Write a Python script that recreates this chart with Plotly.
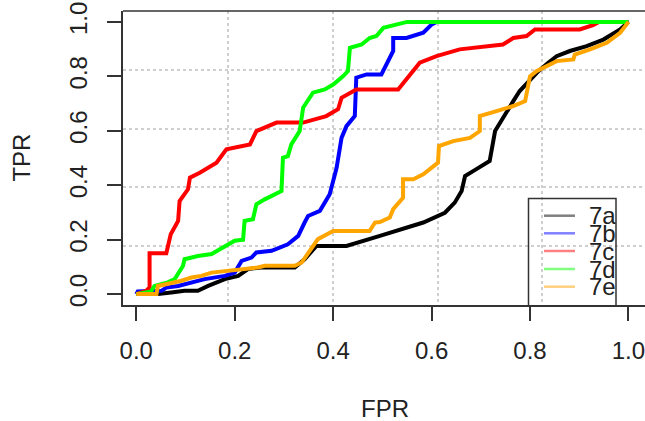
import plotly.graph_objects as go

# ---- data ----
series_names = ["7a", "7b", "7c", "7d", "7e"]
series_colors = ["#000000", "#0000FF", "#FF0000", "#00FF00", "#FFA500"]
legend_colors = ["#808080", "#8080FF", "#FF8080", "#80FF80", "#FFD080"]

fpr_7a = [0, 0.044, 0.071, 0.098, 0.125, 0.146, 0.18, 0.207, 0.227, 0.254, 0.322, 0.342, 0.366, 0.427,
          0.495, 0.535, 0.583, 0.627, 0.647, 0.661, 0.668, 0.691, 0.718, 0.729, 0.739, 0.752, 0.766,
          0.779, 0.8, 0.817, 0.837, 0.854, 0.881, 0.915, 0.949, 0.983, 1.0]
tpr_7a = [0, 0.0, 0.006, 0.012, 0.012, 0.03, 0.055, 0.067, 0.092, 0.098, 0.098, 0.128, 0.177, 0.177,
          0.214, 0.238, 0.263, 0.299, 0.336, 0.379, 0.434, 0.459, 0.489, 0.599, 0.63, 0.672, 0.709,
          0.746, 0.789, 0.819, 0.85, 0.874, 0.893, 0.911, 0.935, 0.972, 1.0]

fpr_7b = [0, 0.003, 0.051, 0.061, 0.085, 0.112, 0.139, 0.18, 0.2, 0.214, 0.234, 0.244, 0.275, 0.308,
          0.329, 0.342, 0.349, 0.373, 0.393, 0.407, 0.417, 0.427, 0.444, 0.447, 0.468, 0.498, 0.522,
          0.522, 0.549, 0.583, 0.6, 0.61, 1.0]
tpr_7b = [0, 0.01, 0.012, 0.024, 0.03, 0.043, 0.055, 0.067, 0.079, 0.122, 0.134, 0.153, 0.159, 0.183,
          0.214, 0.263, 0.287, 0.306, 0.367, 0.464, 0.574, 0.617, 0.654, 0.795, 0.807, 0.807, 0.893,
          0.941, 0.941, 0.96, 0.99, 1.0, 1.0]

fpr_7c = [0, 0.02, 0.027, 0.027, 0.061, 0.07, 0.085, 0.088, 0.105, 0.109, 0.129, 0.163, 0.183, 0.231,
          0.244, 0.285, 0.339, 0.386, 0.41, 0.417, 0.447, 0.532, 0.576, 0.61, 0.657, 0.691, 0.745,
          0.766, 0.793, 0.81, 0.901, 0.928, 0.94, 1.0]
tpr_7c = [0, 0.012, 0.025, 0.15, 0.15, 0.22, 0.269, 0.342, 0.385, 0.428, 0.446, 0.483, 0.532, 0.55,
          0.599, 0.63, 0.63, 0.654, 0.679, 0.721, 0.752, 0.752, 0.85, 0.874, 0.899, 0.905, 0.917,
          0.941, 0.948, 0.972, 0.972, 0.988, 1.0, 1.0]

fpr_7d = [0, 0.03, 0.037, 0.064, 0.078, 0.095, 0.098, 0.125, 0.153, 0.18, 0.2, 0.217, 0.22, 0.237,
          0.244, 0.261, 0.295, 0.298, 0.308, 0.315, 0.322, 0.332, 0.339, 0.359, 0.383, 0.4, 0.42,
          0.43, 0.434, 0.458, 0.474, 0.488, 0.502, 0.542, 0.55, 1.0]
tpr_7d = [0, 0.01, 0.03, 0.043, 0.055, 0.104, 0.128, 0.14, 0.147, 0.177, 0.196, 0.2, 0.269, 0.275,
          0.33, 0.348, 0.379, 0.501, 0.507, 0.55, 0.569, 0.599, 0.685, 0.74, 0.752, 0.77, 0.8,
          0.819, 0.905, 0.917, 0.941, 0.948, 0.978, 0.996, 1.0, 1.0]

fpr_7e = [0, 0.041, 0.044, 0.064, 0.092, 0.112, 0.132, 0.153, 0.18, 0.207, 0.227, 0.247, 0.261, 0.322,
          0.336, 0.353, 0.369, 0.4, 0.474, 0.485, 0.495, 0.515, 0.522, 0.542, 0.542, 0.563, 0.583,
          0.613, 0.615, 0.644, 0.678, 0.698, 0.698, 0.732, 0.766, 0.79, 0.8, 0.813, 0.834, 0.854,
          0.888, 0.891, 0.922, 0.956, 0.983, 1.0]
tpr_7e = [0, 0.0, 0.03, 0.037, 0.049, 0.061, 0.067, 0.079, 0.085, 0.088, 0.092, 0.098, 0.104, 0.104,
          0.116, 0.159, 0.202, 0.232, 0.232, 0.263, 0.265, 0.281, 0.312, 0.354, 0.422, 0.422, 0.44,
          0.483, 0.544, 0.562, 0.574, 0.599, 0.654, 0.672, 0.691, 0.709, 0.8, 0.819, 0.837, 0.856,
          0.862, 0.88, 0.899, 0.923, 0.96, 1.0]

tick_vals = [0.0, 0.2, 0.4, 0.6, 0.8, 1.0]
tick_text = ["0.0", "0.2", "0.4", "0.6", "0.8", "1.0"]
x_title = "FPR"
y_title = "TPR"

xs = [fpr_7a, fpr_7b, fpr_7c, fpr_7d, fpr_7e]
ys = [tpr_7a, tpr_7b, tpr_7c, tpr_7d, tpr_7e]

# plotting region (R "usr" style)
usr_x = [-0.027, 1.038]
usr_y = [-0.04, 1.04]
x_range = [-0.027, 1.0336]
grid_x = [usr_x[0] + k * (usr_x[1] - usr_x[0]) / 5 for k in range(1, 5)]
grid_y = [usr_y[0] + k * (usr_y[1] - usr_y[0]) / 5 for k in range(1, 5)]

FONT = "Liberation Sans, Arial, sans-serif"
fig = go.Figure()
for name, col, x, y in zip(series_names, series_colors, xs, ys):
    fig.add_trace(go.Scatter(x=x, y=y, mode="lines", name=name,
                             line=dict(color=col, width=4), showlegend=False))

axis_common = dict(
    showline=True, linecolor="#333", linewidth=1.5,
    ticks="outside", ticklen=14, tickwidth=1.5, tickcolor="#333",
    tickvals=tick_vals, ticktext=tick_text,
    tickfont=dict(family=FONT, size=24, color="#222"),
    showgrid=False, zeroline=False, ticklabeloverflow="allow",
)
fig.update_xaxes(range=x_range, ticklabelstandoff=9,
                 minor=dict(tickvals=grid_x, showgrid=True, gridcolor="#cfcfcf",
                            griddash="dot", gridwidth=2, ticks=""),
                 **axis_common)
fig.update_yaxes(range=usr_y, tickangle=-90, ticklabelstandoff=11,
                 minor=dict(tickvals=grid_y, showgrid=True, gridcolor="#cfcfcf",
                            griddash="dot", gridwidth=2, ticks=""),
                 **axis_common)

# top frame line
fig.add_shape(type="line", xref="paper", yref="paper", x0=0, x1=1, y0=1, y1=1,
              line=dict(color="#333", width=1.5))

# manual legend (R-style box)
W, H, L, T, B = 645, 421, 123, 11, 116
pw, ph = W - L, H - T - B
def px2x(px):
    return (px - L) / pw
def py2y(py):
    return (H - B - py) / ph

fig.add_shape(type="rect", xref="paper", yref="paper",
              x0=px2x(528.5), x1=px2x(616), y0=py2y(306), y1=py2y(198.5),
              line=dict(color="#333", width=1.5), fillcolor="rgba(0,0,0,0)")
rows = [215.7, 233.3, 251.0, 269.0, 286.7]
for name, col, ry in zip(series_names, legend_colors, rows):
    fig.add_shape(type="line", xref="paper", yref="paper",
                  x0=px2x(544), x1=px2x(575), y0=py2y(ry), y1=py2y(ry),
                  line=dict(color=col, width=2.5))
    fig.add_annotation(x=px2x(587), y=py2y(ry), xref="paper", yref="paper",
                       text=name, showarrow=False, xanchor="left", yanchor="middle",
                       font=dict(family=FONT, size=24, color="#222"))

# axis titles
fig.add_annotation(x=px2x(385), y=py2y(408), xref="paper", yref="paper", text=x_title,
                   showarrow=False, xanchor="center", yanchor="middle",
                   font=dict(family=FONT, size=24, color="#222"))
fig.add_annotation(x=px2x(22), y=py2y(157.6), xref="paper", yref="paper", text=y_title,
                   showarrow=False, xanchor="center", yanchor="middle", textangle=-90,
                   font=dict(family=FONT, size=24, color="#222"))

fig.update_layout(width=W, height=H, margin=dict(l=L, r=0, t=T, b=B, autoexpand=False),
                  paper_bgcolor="white", plot_bgcolor="white", showlegend=False)
fig.write_html("out.html", config={"displayModeBar": False},
               post_script="document.body.style.margin='0';document.body.style.overflow='hidden';")
